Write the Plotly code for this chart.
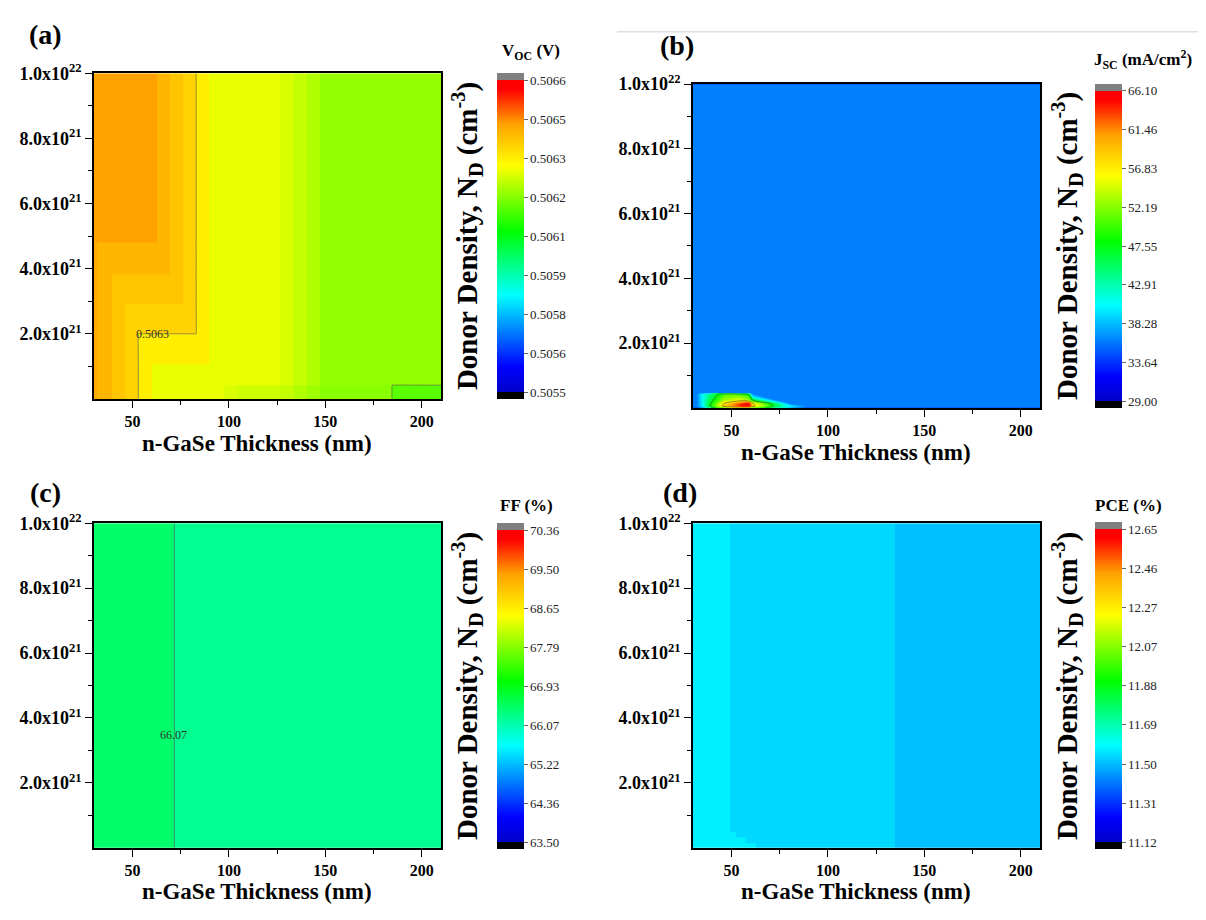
import numpy as np
import plotly.graph_objects as go

FONT = "Liberation Serif"

# ---------------- data ----------------
x_tick_vals = [50, 100, 150, 200]
x_tick_text = ["50", "100", "150", "200"]
x_minor_vals = [75, 125, 175]
y_tick_vals = [2e21, 4e21, 6e21, 8e21, 1e22]
y_tick_text = ["2.0x10<sup>21</sup>", "4.0x10<sup>21</sup>", "6.0x10<sup>21</sup>",
               "8.0x10<sup>21</sup>", "1.0x10<sup>22</sup>"]
y_minor_vals = [1e21, 3e21, 5e21, 7e21, 9e21]

# (a) Voc (V) -- piecewise-constant regions (cell edges)
a_thickness_edges = [30, 31.4, 39.2, 46.1, 53.0, 59.9, 62.5, 69.5, 76.4, 83.0, 89.4,
                     97.2, 104.1, 126.6, 133.5, 140.4, 147.3, 184.6, 210]
a_density_edges = [0, 0.42e21, 1.07e21, 2.0e21, 2.92e21, 3.84e21, 4.8e21, 1.0e22]
a_voc = [
    [0.506440, 0.506420, 0.506397, 0.506375, 0.506332, 0.506286, 0.506286, 0.506286, 0.506286,
     0.506286, 0.506286, 0.506272, 0.506260, 0.506250, 0.506232, 0.506216, 0.506196, 0.506152],
    [0.506440, 0.506420, 0.506397, 0.506375, 0.506332, 0.506286, 0.506286, 0.506286, 0.506286,
     0.506286, 0.506286, 0.506286, 0.506286, 0.506268, 0.506250, 0.506232, 0.506207, 0.506207],
    [0.506440, 0.506420, 0.506397, 0.506375, 0.506332, 0.506332, 0.506332, 0.506332, 0.506332,
     0.506332, 0.506286, 0.506286, 0.506286, 0.506268, 0.506250, 0.506232, 0.506207, 0.506207],
    [0.506440, 0.506420, 0.506397, 0.506375, 0.506375, 0.506375, 0.506375, 0.506375, 0.506375,
     0.506332, 0.506286, 0.506286, 0.506286, 0.506268, 0.506250, 0.506232, 0.506207, 0.506207],
    [0.506440, 0.506420, 0.506397, 0.506397, 0.506397, 0.506397, 0.506397, 0.506397, 0.506375,
     0.506332, 0.506286, 0.506286, 0.506286, 0.506268, 0.506250, 0.506232, 0.506207, 0.506207],
    [0.506440, 0.506420, 0.506420, 0.506420, 0.506420, 0.506420, 0.506420, 0.506397, 0.506375,
     0.506332, 0.506286, 0.506286, 0.506286, 0.506268, 0.506250, 0.506232, 0.506207, 0.506207],
    [0.506452, 0.506452, 0.506452, 0.506452, 0.506452, 0.506452, 0.506420, 0.506397, 0.506375,
     0.506332, 0.506286, 0.506286, 0.506286, 0.506268, 0.506250, 0.506232, 0.506207, 0.506207],
]
a_range = (0.50550, 0.50661)
a_cbar_ticks = ["0.5055", "0.5056", "0.5058", "0.5059", "0.5061", "0.5062", "0.5063", "0.5065", "0.5066"]
a_line_label = "0.5063"

# (b) Jsc (mA/cm2) -- grid nodes
b_thickness = [30, 31.9, 35, 38, 46, 54, 59, 61, 73, 81, 89, 210]
b_density = [0, 0.05e21, 0.12e21, 0.24e21, 0.42e21, 0.45e21, 1.0e22]
b_jsc = [
    [36.2, 36.2, 39.0, 44.0, 52.0, 56.0, 56.0, 52.0, 44.0, 39.0, 36.2, 36.2],
    [36.2, 36.2, 40.0, 46.0, 58.0, 64.0, 65.0, 58.0, 46.0, 40.0, 36.2, 36.2],
    [36.2, 36.2, 40.5, 46.0, 57.0, 63.0, 66.0, 58.0, 45.0, 36.2, 36.2, 36.2],
    [36.2, 36.2, 40.5, 45.0, 53.0, 55.0, 53.0, 47.0, 36.2, 36.2, 36.2, 36.2],
    [36.2, 36.2, 40.5, 43.0, 50.0, 50.0, 47.0, 36.2, 36.2, 36.2, 36.2, 36.2],
    [36.2, 36.2, 36.2, 36.2, 36.2, 36.2, 36.2, 36.2, 36.2, 36.2, 36.2, 36.2],
    [36.2, 36.2, 36.2, 36.2, 36.2, 36.2, 36.2, 36.2, 36.2, 36.2, 36.2, 36.2],
]
b_range = (29.00, 66.10)
b_cbar_ticks = ["29.00", "33.64", "38.28", "42.91", "47.55", "52.19", "56.83", "61.46", "66.10"]
b_line_levels = [47.55, 56.83]

# (c) FF (%)
c_thickness_edges = [30, 71.7, 210]
c_density_edges = [0, 1.0e22]
c_ff = [[66.45, 66.24]]
c_range = (63.50, 70.36)
c_cbar_ticks = ["63.50", "64.36", "65.22", "66.07", "66.93", "67.79", "68.65", "69.50", "70.36"]
c_line_label = "66.07"

# (d) PCE (%)
d_thickness_edges = [30, 49.4, 52.1, 57.5, 62.9, 135, 210]
d_density_edges = [0, 0.157e21, 0.313e21, 0.47e21, 1.0e22]
d_pce = [
    [11.574, 11.574, 11.574, 11.574, 11.540, 11.507],
    [11.574, 11.574, 11.574, 11.540, 11.540, 11.507],
    [11.574, 11.574, 11.540, 11.540, 11.540, 11.507],
    [11.574, 11.540, 11.540, 11.540, 11.540, 11.507],
]
d_range = (11.12, 12.65)
d_cbar_ticks = ["11.12", "11.31", "11.50", "11.69", "11.88", "12.07", "12.27", "12.46", "12.65"]

# ---------------- style helpers ----------------
ANCHORS = [(0.0, "#0000c8"), (0.08, "#0000ff"), (0.31, "#00ffff"), (0.515, "#00ff00"),
           (0.725, "#ffff00"), (0.86, "#ffa000"), (0.97, "#ff0000"), (1.0, "#ff0000")]
CAP = 0.021


def build_scale():
    s = [[0.0, "#000000"], [CAP, "#000000"]]
    for f, c in ANCHORS:
        s.append([CAP + f * (1 - 2 * CAP), c])
    s += [[1 - CAP, "#808080"], [1.0, "#808080"]]
    return s


SCALE = build_scale()


def crange(r):
    vmin, vmax = r
    t = (vmax - vmin) / (1 - 2 * CAP)
    return vmin - CAP * t, vmax + CAP * t


# page offset of the figure inside the browser window
OX, OY = 8, 18
W, H = 1206 - OX, 920 - OY


def px(v):
    return (v - OX) / W


def py(v):
    return 1 - (v - OY) / H


def cbar(r, ticks, x, ytop, ln):
    return dict(x=x, xanchor="left", xpad=0, y=ytop, yanchor="top", ypad=0,
                len=ln, lenmode="fraction", thickness=27, outlinewidth=0,
                tickmode="array", tickvals=list(np.linspace(r[0], r[1], 9)), ticktext=ticks,
                ticks="outside", ticklen=4, tickcolor="#666", tickwidth=1,
                tickfont=dict(family=FONT, size=13, color="#222"))


def edge_nodes(edges, eps):
    nodes = [edges[0]]
    for e in edges[1:-1]:
        nodes += [e - eps, e + eps]
    nodes.append(edges[-1])
    return nodes


def line_trace(xe, ye, z, level, xa, ya, color="rgba(80,80,80,0.75)", width=0.8):
    zz = np.repeat(np.repeat(np.array(z, dtype=float), 2, axis=0), 2, axis=1)
    xn = edge_nodes(xe, 0.02)
    yn = edge_nodes(ye, 1e18)
    return go.Contour(x=xn, y=yn, z=zz, autocontour=False,
                      contours=dict(start=level, end=level, size=1, coloring="none", showlines=True),
                      line=dict(color=color, width=width), showscale=False,
                      hoverinfo="skip", xaxis=xa, yaxis=ya)


fig = go.Figure()

# ---- (a)
lo, hi = crange(a_range)
fig.add_trace(go.Heatmap(x=a_thickness_edges, y=a_density_edges, z=a_voc, colorscale=SCALE,
                         zmin=lo, zmax=hi, hoverinfo="skip", xaxis="x", yaxis="y",
                         colorbar=cbar(a_range, a_cbar_ticks, px(497), py(72), 330 / H)))
a_lvl1 = (a_voc[3][3] + a_voc[2][4]) / 2
a_lvl2 = (a_voc[0][16] + a_voc[0][17]) / 2
fig.add_trace(line_trace(a_thickness_edges, a_density_edges, a_voc, a_lvl1, "x", "y"))
fig.add_trace(line_trace(a_thickness_edges, a_density_edges, a_voc, a_lvl2, "x", "y"))

# ---- (b)
lo, hi = crange(b_range)
fig.add_trace(go.Heatmap(x=b_thickness, y=b_density, z=b_jsc, colorscale=SCALE,
                         zmin=lo, zmax=hi, hoverinfo="skip", xaxis="x2", yaxis="y2",
                         colorbar=cbar(b_range, b_cbar_ticks, px(1095), py(83), 328 / H)))
N = 48
cs = (hi - lo) / N
fig.add_trace(go.Contour(x=b_thickness, y=b_density, z=b_jsc, colorscale=SCALE, autocontour=False,
                         contours=dict(start=lo + cs / 2, end=hi - cs / 2, size=cs,
                                       coloring="fill", showlines=False),
                         line=dict(width=0), showscale=False, hoverinfo="skip",
                         xaxis="x2", yaxis="y2"))
for lv in b_line_levels:
    fig.add_trace(go.Contour(x=b_thickness, y=b_density, z=b_jsc, autocontour=False,
                             contours=dict(start=lv, end=lv, size=1, coloring="none", showlines=True),
                             line=dict(color="rgba(60,60,60,0.7)", width=0.8), showscale=False,
                             hoverinfo="skip", xaxis="x2", yaxis="y2"))

# ---- (c)
lo, hi = crange(c_range)
fig.add_trace(go.Heatmap(x=c_thickness_edges, y=c_density_edges, z=c_ff, colorscale=SCALE,
                         zmin=lo, zmax=hi, hoverinfo="skip", xaxis="x3", yaxis="y3",
                         colorbar=cbar(c_range, c_cbar_ticks, px(497), py(528), 330 / H)))
fig.add_trace(line_trace(c_thickness_edges, c_density_edges, c_ff,
                         (c_ff[0][0] + c_ff[0][1]) / 2, "x3", "y3"))

# ---- (d)
lo, hi = crange(d_range)
fig.add_trace(go.Heatmap(x=d_thickness_edges, y=d_density_edges, z=d_pce, colorscale=SCALE,
                         zmin=lo, zmax=hi, hoverinfo="skip", xaxis="x4", yaxis="y4",
                         colorbar=cbar(d_range, d_cbar_ticks, px(1095), py(527), 331 / H)))

# ---------------- axes ----------------
doms = {
    "a": ([px(94), px(441)], [py(402), py(72)]),
    "b": ([px(693), px(1040)], [py(411), py(83)]),
    "c": ([px(94), px(441)], [py(857), py(528)]),
    "d": ([px(693), px(1040)], [py(857), py(528)]),
}


def xaxis(dom, anchor):
    return dict(domain=dom, anchor=anchor, range=[30, 210], tickmode="array",
                tickvals=x_tick_vals, ticktext=x_tick_text, ticks="outside", ticklen=7,
                tickwidth=1.3, tickcolor="black", showline=True, linecolor="black",
                linewidth=1.5, mirror=True, showgrid=False, zeroline=False,
                ticklabelstandoff=0,
                tickfont=dict(family=FONT, size=16, color="black", weight="bold"),
                minor=dict(tickmode="array", tickvals=x_minor_vals, ticks="outside",
                           ticklen=4, tickcolor="black", tickwidth=1))


def yaxis(dom, anchor):
    return dict(domain=dom, anchor=anchor, range=[0, 1e22], tickmode="array",
                tickvals=y_tick_vals, ticktext=y_tick_text, ticks="outside", ticklen=7,
                tickwidth=1.3, tickcolor="black", showline=True, linecolor="black",
                linewidth=1.5, mirror=True, showgrid=False, zeroline=False,
                tickfont=dict(family=FONT, size=18, color="black", weight="bold"),
                minor=dict(tickmode="array", tickvals=y_minor_vals, ticks="outside",
                           ticklen=4, tickcolor="black", tickwidth=1))


layout = dict(width=W, height=H, margin=dict(l=0, r=0, t=0, b=0),
              paper_bgcolor="white", plot_bgcolor="white", showlegend=False)
for i, k in enumerate("abcd"):
    sx = "" if i == 0 else str(i + 1)
    layout["xaxis" + sx] = xaxis(doms[k][0], "y" + sx)
    layout["yaxis" + sx] = yaxis(doms[k][1], "x" + sx)

ann = []


def add_text(text, x, y, size, bold=True, angle=0, xref="paper", yref="paper", color="black"):
    t = "<b>" + text + "</b>" if bold else text
    ann.append(dict(text=t, x=x, y=y, xref=xref, yref=yref, xanchor="center", yanchor="middle",
                    showarrow=False, textangle=angle, borderpad=0,
                    font=dict(family=FONT, size=size, color=color)))


# panel labels
add_text("(a)", px(45), py(33), 28)
add_text("(b)", px(677), py(44), 28)
add_text("(c)", px(45), py(497), 28)
add_text("(d)", px(680), py(497), 28)

# x titles
xt = "n-GaSe Thickness (nm)"
add_text(xt, px(257), py(447), 23)
add_text(xt, px(856), py(456), 23)
add_text(xt, px(257), py(901), 23)
add_text(xt, px(856), py(901), 23)

# y titles
yt = "Donor Density, N<sub>D</sub> (cm<sup>-3</sup>)"
add_text(yt, px(467), py(237), 29, angle=-90)
add_text(yt, px(1067), py(247), 29, angle=-90)
add_text(yt, px(467), py(693), 29, angle=-90)
add_text(yt, px(1067), py(693), 29, angle=-90)

# colorbar titles
add_text("V<sub>OC</sub> (V)", px(531), py(50), 17)
add_text("J<sub>SC</sub> (mA/cm<sup>2</sup>)", px(1143), py(58), 17)
add_text("FF (%)", px(526), py(510), 17)
add_text("PCE (%)", px(1128), py(510), 17)

# contour labels
add_text(a_line_label, 60.4, 1.98e21, 12, bold=False, xref="x", yref="y", color="#333")
add_text(c_line_label, 71.3, 3.48e21, 12, bold=False, xref="x3", yref="y3", color="#333")

layout["annotations"] = ann
layout["shapes"] = [dict(type="line", xref="paper", yref="paper", x0=px(617), x1=1.0,
                         y0=py(30), y1=py(30), line=dict(color="#cfcfcf", width=1))]

fig.update_layout(**layout)
fig.write_html("out.html")
